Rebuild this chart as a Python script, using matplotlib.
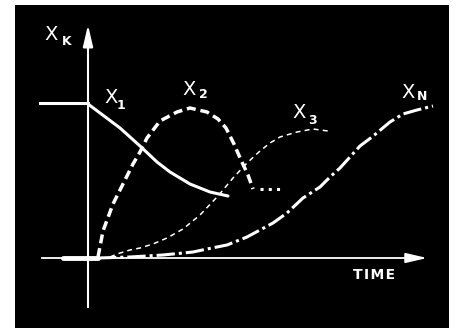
import matplotlib
matplotlib.use('Agg')
import matplotlib.pyplot as plt

# time axis (t) and value (x), origin at the axis crossing
x1_flat_t = [-4.8, 0.0]
x1_flat_v = [15.45, 15.45]
x1_t = [0.0, 1.2, 3.2, 5.2, 6.9, 8.2, 10.2, 12.2, 14.0]
x1_v = [15.4, 14.5, 13.0, 11.2, 9.6, 8.6, 7.4, 6.6, 6.2]

x2_t = [1.0, 1.5, 2.5, 3.5, 4.5, 5.2, 5.9, 7.2, 8.9, 10.2, 11.9, 13.0, 13.8, 14.6, 15.3, 16.0, 16.5]
x2_v = [0.1, 2.7, 5.4, 7.4, 9.4, 10.6, 12.0, 13.7, 14.6, 15.0, 14.6, 13.9, 13.0, 11.4, 9.8, 8.3, 6.9]
x2_tail_t = [17.2, 19.2]
x2_tail_v = [6.9, 6.9]

x3_t = [2.2, 2.9, 4.2, 5.2, 6.5, 7.9, 9.5, 11.2, 13.0, 14.5, 15.9, 17.2, 18.2, 19.2, 20.9, 22.5, 24.0]
x3_v = [0.1, 0.4, 0.8, 1.0, 1.4, 2.0, 2.9, 4.3, 6.2, 8.0, 9.5, 10.7, 11.5, 12.1, 12.6, 12.9, 12.7]

xn_t = [1.0, 4.2, 7.5, 10.5, 11.9, 13.9, 15.9, 17.2, 18.5, 19.9, 21.5, 23.2, 24.2, 25.2,
        27.2, 28.4, 30.2, 31.5, 32.9, 34.5]
xn_v = [0.0, 0.1, 0.3, 0.6, 0.9, 1.3, 2.1, 2.8, 3.5, 4.5, 6.0, 7.1, 8.1, 9.0,
        11.2, 12.1, 13.6, 14.4, 14.8, 15.2]

# initial zero level of X2..XN before t=0
base_t = [-2.5, 1.0]
base_v = [0.0, 0.0]

fig = plt.figure(figsize=(4.57, 3.28), dpi=100, facecolor='white')
ax = fig.add_axes([15 / 457, 0, 434 / 457, 323 / 328])
ax.set_facecolor('black')
ax.set_xlim(-7.3, 36.1)
ax.set_ylim(-7.0, 25.3)
for s in ax.spines.values():
    s.set_visible(False)
ax.set_xticks([])
ax.set_yticks([])

w = 'white'
# axes with arrow heads
ax.plot([0, 0], [-4.9, 22.0], color=w, lw=1.5)
ax.plot([-4.6, 32.5], [0, 0], color=w, lw=1.3)
ax.annotate('', xy=(0, 23.6), xytext=(0, 21.0),
            arrowprops=dict(arrowstyle='-|>,head_length=1.3,head_width=0.3', color=w, lw=1.5))
ax.annotate('', xy=(34.2, 0), xytext=(31.5, 0),
            arrowprops=dict(arrowstyle='-|>,head_length=1.3,head_width=0.3', color=w, lw=1.3))

ax.plot(base_t, base_v, color=w, lw=3.5, solid_capstyle='round')

# curves
ax.plot(x1_flat_t, x1_flat_v, color=w, lw=2.2)
ax.plot(x1_t, x1_v, color=w, lw=2.2, solid_capstyle='round', solid_joinstyle='round')
ax.plot(x2_t, x2_v, color=w, lw=2.5, linestyle=(0, (2.6, 1.4)), dash_joinstyle='round')
ax.plot(x2_tail_t, x2_tail_v, color=w, lw=2.2, linestyle=(0, (1, 1.7)))
ax.plot(x3_t, x3_v, color=w, lw=1.1, linestyle=(0, (3.3, 2.7)))
ax.plot(xn_t, xn_v, color=w, lw=2.2, linestyle=(0, (6, 1.3, 1, 1.3)), dash_joinstyle='round')

# labels
big = dict(color=w, fontsize=14, ha='center', va='center', family='DejaVu Sans')
small = dict(color=w, fontsize=9, ha='center', va='center', family='DejaVu Sans', weight='bold')
ax.text(-3.65, 22.3, 'X', **big)
ax.text(-2.15, 21.65, 'K', **small)
ax.text(2.3, 16.05, 'X', **big)
ax.text(3.3, 15.2, '1', **small)
ax.text(10.1, 16.8, 'X', **big)
ax.text(11.55, 16.35, '2', **small)
ax.text(21.1, 14.55, 'X', **big)
ax.text(22.5, 13.75, '3', **small)
ax.text(32.0, 16.55, 'X', **big)
ax.text(33.4, 16.1, 'N', **small)
ax.text(28.6, -1.7, 'T\u200aI\u200aM\u200aE', color=w, fontsize=10, weight='bold',
        ha='center', va='center', family='DejaVu Sans')

fig.savefig('out.png', dpi=100, facecolor='white')
